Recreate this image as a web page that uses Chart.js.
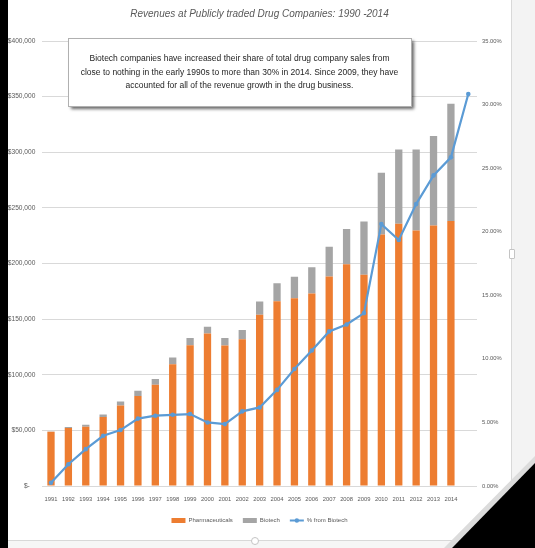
<!DOCTYPE html>
<html>
<head>
<meta charset="utf-8">
<title>Revenues at Publicly traded Drug Companies: 1990 -2014</title>
<script src="https://cdn.jsdelivr.net/npm/chart.js@4"></script>
<style>
  html, body { margin: 0; padding: 0; background: #fff; }
  #page { position: relative; width: 535px; height: 548px; overflow: hidden; background: #fff; }
  #leftEdge { position: absolute; left: 0; top: 0; width: 8px; height: 548px; background: #000; }
  #sidePanel { position: absolute; left: 511px; top: 0; width: 24px; height: 548px; background: #f3f3f3; border-left: 1px solid #d8d8d8; }
  #sideHandle { position: absolute; left: 509px; top: 249px; width: 4px; height: 8px; background: #fff; border: 1px solid #c4c4c4; border-radius: 1px; }
  #bottomEdge { position: absolute; left: 8px; top: 540px; width: 503px; height: 8px; background: #f6f6f6; border-top: 1px solid #d8d8d8; }
  #bottomHandle { position: absolute; left: 251px; top: 537px; width: 6px; height: 6px; border-radius: 50%; background: #fff; border: 1px solid #c4c4c4; }
  #curlEdge { position: absolute; left: 0; top: 0; width: 535px; height: 548px; background: #dcdcdc; clip-path: polygon(535px 456px, 535px 463px, 452px 548px, 444px 548px); }
  #curl { position: absolute; left: 0; top: 0; width: 535px; height: 548px; background: #000; clip-path: polygon(535px 463px, 535px 548px, 452px 548px); }
  #chartBox { position: absolute; left: 8px; top: 0; width: 503px; height: 540px; }
</style>
</head>
<body>
<div id="page">
  <div id="leftEdge"></div>
  <div id="chartBox"><canvas id="drugChart"></canvas></div>
  <div id="sidePanel"></div>
  <div id="sideHandle"></div>
  <div id="bottomEdge"></div>
  <div id="bottomHandle"></div>
  <div id="curlEdge"></div>
  <div id="curl"></div>
</div>
<script>
  // Revenue data ($ millions), last slot only carries the share point
  const years = ['1991', '1992', '1993', '1994', '1995', '1996', '1997', '1998', '1999', '2000',
    '2001', '2002', '2003', '2004', '2005', '2006', '2007', '2008', '2009', '2010',
    '2011', '2012', '2013', '2014', ''];
  const pharma = [48700, 52200, 53300, 62000, 72300, 80900, 91000, 109500, 126500, 137000,
    126300, 131800, 154000, 166000, 168800, 173000, 188300, 199400, 189800, 226000,
    235800, 229700, 234200, 238100, null];
  const biotech = [200, 800, 1700, 2200, 3600, 4700, 5100, 6100, 6500, 6200,
    6700, 8500, 11800, 16300, 19200, 23700, 26700, 31500, 48000, 55600,
    66600, 72700, 80500, 105400, null];
  const biotechShare = [0.26, 1.71, 2.9, 3.95, 4.4, 5.3, 5.53, 5.6, 5.66, 5.0,
    4.87, 5.87, 6.18, 7.56, 9.2, 10.66, 12.16, 12.7, 13.6, 20.6,
    19.35, 22.17, 24.43, 25.85, 30.83];

  const noteLines = [
    'Biotech companies have increased their share of total drug company sales from',
    'close to nothing in the early 1990s to more than 30% in 2014. Since 2009, they have',
    'accounted for all of the revenue growth in the drug business.'
  ];

  const FONT = "'Liberation Sans', Arial, sans-serif";
  const ORANGE = '#ED7D31';
  const GREY = '#A5A5A5';
  const BLUE = '#5B9BD5';

  Chart.defaults.font.family = FONT;
  Chart.defaults.color = '#595959';

  // callout box with shadow
  const noteBox = {
    id: 'noteBox',
    afterDraw(chart) {
      const ctx = chart.ctx;
      const x = 60, y = 38, w = 343, h = 68;
      ctx.save();
      ctx.shadowColor = 'rgba(0,0,0,0.6)';
      ctx.shadowOffsetX = 3;
      ctx.shadowOffsetY = 3;
      ctx.shadowBlur = 3;
      ctx.fillStyle = '#fff';
      ctx.fillRect(x, y, w, h);
      ctx.restore();
      ctx.save();
      ctx.strokeStyle = '#b0b0b0';
      ctx.lineWidth = 1;
      ctx.strokeRect(x + 0.5, y + 0.5, w, h);
      ctx.fillStyle = '#1e1e1e';
      ctx.font = '8.5px ' + FONT;
      ctx.textAlign = 'center';
      ctx.textBaseline = 'middle';
      noteLines.forEach((t, i) => ctx.fillText(t, x + w / 2, 59 + i * 13.5));
      ctx.restore();
    }
  };

  // marker dot in the middle of the line legend swatch
  const legendMarker = {
    id: 'legendMarker',
    afterDraw(chart) {
      const legend = chart.legend;
      const idx = legend.legendItems.findIndex(it => it.datasetIndex === 2);
      const box = legend.legendHitBoxes[idx];
      if (!box) return;
      const ctx = chart.ctx;
      ctx.save();
      ctx.fillStyle = BLUE;
      ctx.beginPath();
      ctx.arc(box.left + 7, box.top + box.height / 2, 2.2, 0, Math.PI * 2);
      ctx.fill();
      ctx.restore();
    }
  };

  new Chart(document.getElementById('drugChart'), {
    type: 'bar',
    data: {
      labels: years,
      datasets: [
        {
          label: 'Pharmaceuticals',
          data: pharma,
          backgroundColor: ORANGE,
          stack: 'revenue',
          yAxisID: 'y',
          order: 2,
          barPercentage: 0.42,
          categoryPercentage: 1
        },
        {
          label: 'Biotech',
          data: biotech,
          backgroundColor: GREY,
          stack: 'revenue',
          yAxisID: 'y',
          order: 2,
          barPercentage: 0.42,
          categoryPercentage: 1
        },
        {
          type: 'line',
          label: '% from Biotech',
          data: biotechShare,
          yAxisID: 'y1',
          borderColor: BLUE,
          backgroundColor: BLUE,
          borderWidth: 2.2,
          pointRadius: 2.3,
          pointBorderWidth: 0,
          pointBackgroundColor: BLUE,
          tension: 0,
          order: 1
        }
      ]
    },
    options: {
      responsive: true,
      maintainAspectRatio: false,
      animation: false,
      devicePixelRatio: 1,
      layout: { padding: { left: 0, right: 0, top: 0, bottom: 6.5 } },
      plugins: {
        title: {
          display: true,
          text: 'Revenues at Publicly traded Drug Companies: 1990 -2014',
          color: '#595959',
          font: { size: 10, style: 'italic', weight: 'normal' },
          padding: { top: 8, bottom: 21 }
        },
        legend: {
          position: 'bottom',
          labels: {
            usePointStyle: true,
            pointStyleWidth: 14,
            boxHeight: 5,
            padding: 10,
            color: '#595959',
            font: { size: 6 },
            sort: (a, b) => a.datasetIndex - b.datasetIndex,
            generateLabels(chart) {
              const items = Chart.defaults.plugins.legend.labels.generateLabels(chart);
              return items.map(item => {
                if (item.datasetIndex === 2) {
                  item.pointStyle = 'line';
                  item.strokeStyle = BLUE;
                  item.lineWidth = 2;
                } else {
                  item.pointStyle = 'rect';
                  item.lineWidth = 0;
                }
                return item;
              });
            }
          }
        },
        tooltip: { enabled: false }
      },
      scales: {
        x: {
          stacked: true,
          grid: { display: false, drawTicks: false },
          border: { display: false },
          ticks: { padding: 9.5, font: { size: 5.8 }, color: '#595959', autoSkip: false, maxRotation: 0 },
          afterFit(scale) { scale.height = 21.5; }
        },
        y: {
          stacked: true,
          position: 'left',
          min: 0,
          max: 400000,
          grid: { color: '#d9d9d9', lineWidth: 1, drawTicks: false },
          border: { display: false },
          ticks: {
            stepSize: 50000,
            padding: 7,
            font: { size: 6.6 },
            color: '#595959',
            callback: v => v === 0 ? '$-   ' : '$' + v.toLocaleString('en-US')
          },
          afterFit(scale) { scale.width = 34.3; }
        },
        y1: {
          position: 'right',
          min: 0,
          max: 35,
          grid: { display: false, drawTicks: false },
          border: { display: false },
          ticks: {
            stepSize: 5,
            padding: 5,
            font: { size: 5.8 },
            color: '#595959',
            callback: v => v.toFixed(2) + '%'
          },
          afterFit(scale) { scale.width = 34; }
        }
      }
    },
    plugins: [noteBox, legendMarker]
  });
</script>
</body>
</html>
